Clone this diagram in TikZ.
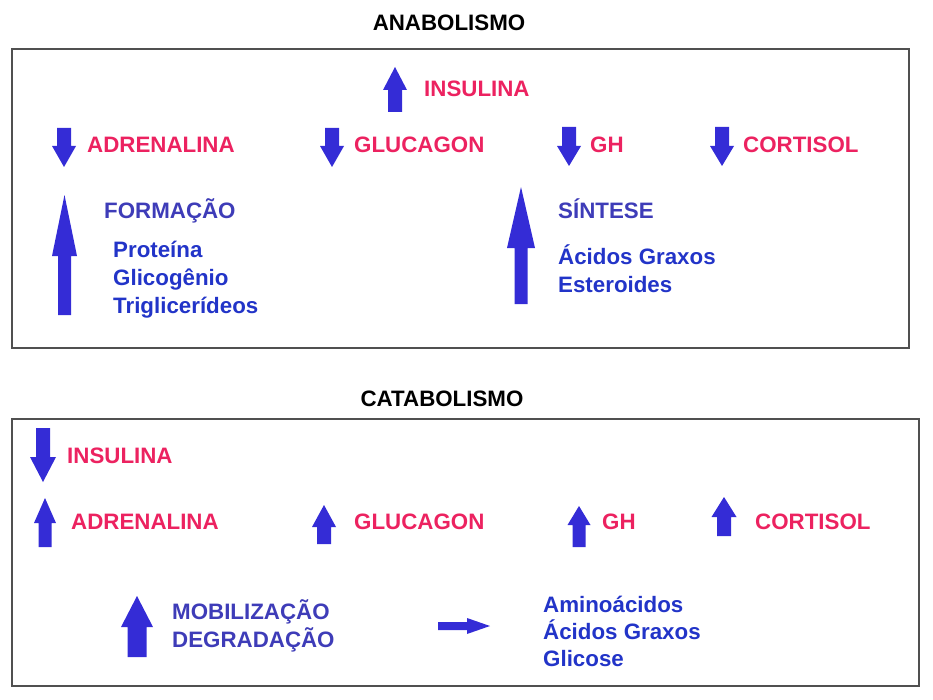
\documentclass[tikz,border=0pt]{standalone}
\usepackage{fontspec}
\setmainfont{Liberation Sans}
\definecolor{hred}{RGB}{236,34,96}
\definecolor{arrblue}{RGB}{52,44,214}
\definecolor{headblue}{RGB}{62,60,184}
\definecolor{itemblue}{RGB}{34,52,200}
\definecolor{boxgray}{RGB}{80,80,80}
% vertical block arrow: x, tip y, head-base y, tail y, head half width, shaft half width
\newcommand\vArrow[6]{%
  \fill[arrblue] (#1,#2) -- (#1+#5,#3) -- (#1+#6,#3) -- (#1+#6,#4) -- (#1-#6,#4)
    -- (#1-#6,#3) -- (#1-#5,#3) -- cycle;}
\begin{document}
\begin{tikzpicture}[x=1bp,y=-1bp,
  txt/.style={inner sep=0pt,anchor=base west,font=\fontsize{22.4}{26}\selectfont\bfseries},
  title/.style={inner sep=0pt,anchor=base,font=\fontsize{22.4}{26}\selectfont\bfseries,text=black},
  hormone/.style={txt,text=hred},
  head/.style={txt,text=headblue},
  item/.style={txt,text=itemblue},
  panel/.style={draw=boxgray,line width=1.5bp}]
\useasboundingbox (0,0) rectangle (933,700);

% ---------------- ANABOLISMO ----------------
\node[title] (tA) at (449,31) {ANABOLISMO};
\draw[panel] (12,49) rectangle (909,348);

\vArrow{395}{67}{90}{112}{12}{7}
\node[hormone] (aIns) at (424,97) {INSULINA};

\vArrow{64}{167}{146}{128}{12}{7}
\node[hormone] (aAdr) at (87,153) {ADRENALINA};
\vArrow{332}{167}{146}{128}{12}{7}
\node[hormone] (aGlu) at (354,153) {GLUCAGON};
\vArrow{569}{166}{146}{127}{12}{7}
\node[hormone] (aGH) at (590,153) {GH};
\vArrow{722}{166}{146}{127}{12}{7}
\node[hormone] (aCor) at (743,153) {CORTISOL};

\vArrow{64.5}{195}{256}{315}{12.5}{6.5}
\node[head] (aForm) at (104,218) {FORMAÇÃO};
\node[item] (aP1) at (113,257) {Proteína};
\node[item] (aP2) at (113,285) {Glicogênio};
\node[item] (aP3) at (113,313) {Triglicerídeos};

\vArrow{521}{187}{248}{304}{14}{6.5}
\node[head] (aSin) at (558,218) {SÍNTESE};
\node[item] (aS1) at (558,264) {Ácidos Graxos};
\node[item] (aS2) at (558,292) {Esteroides};

% ---------------- CATABOLISMO ----------------
\node[title] (tC) at (442,406) {CATABOLISMO};
\draw[panel] (12,419) rectangle (919,686);

\vArrow{43}{482}{457}{428}{13}{7}
\node[hormone] (cIns) at (67,463) {INSULINA};

\vArrow{45}{498}{523}{547}{11}{6.5}
\node[hormone] (cAdr) at (71,529) {ADRENALINA};
\vArrow{324}{505}{527}{544}{12}{7}
\node[hormone] (cGlu) at (354,529) {GLUCAGON};
\vArrow{579}{506}{525}{547}{11.5}{6.5}
\node[hormone] (cGH) at (602,529) {GH};
\vArrow{724}{497}{517}{536}{12.5}{7}
\node[hormone] (cCor) at (755,529) {CORTISOL};

\vArrow{137}{596}{627}{657}{16}{9.5}
\node[head] (cMob) at (172,619) {MOBILIZAÇÃO};
\node[head] (cDeg) at (172,647) {DEGRADAÇÃO};

\fill[arrblue] (438,622) -- (467,622) -- (467,618) -- (490,626) -- (467,634)
  -- (467,630) -- (438,630) -- cycle;

\node[item] (cR1) at (543,612) {Aminoácidos};
\node[item] (cR2) at (543,639) {Ácidos Graxos};
\node[item] (cR3) at (543,666) {Glicose};
\end{tikzpicture}
\end{document}
